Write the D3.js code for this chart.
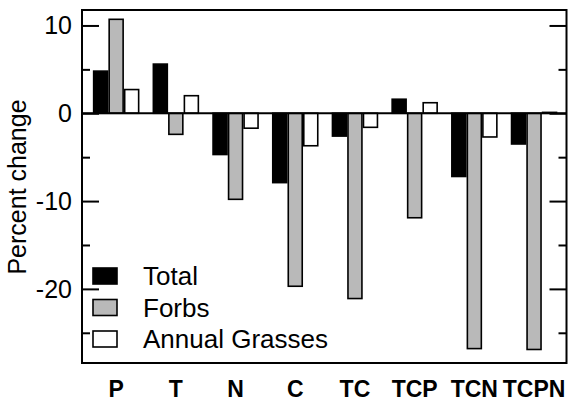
<!DOCTYPE html>
<html>
<head>
<meta charset="utf-8">
<script src="https://cdn.jsdelivr.net/npm/d3@7"></script>
<style>
  body { margin: 0; background: #fff; }
  svg { display: block; font-family: 'Liberation Sans', Arial, Helvetica, sans-serif; }
</style>
</head>
<body>
<div id="chart"></div>
<script>
// Treatments and percent change per group
const treatments = ['P', 'T', 'N', 'C', 'TC', 'TCP', 'TCN', 'TCPN']
const series = ['Total', 'Forbs', 'Annual Grasses']
const total = [4.8, 5.6, -4.7, -7.9, -2.6, 1.6, -7.2, -3.5]
const forbs = [10.7, -2.4, -9.8, -19.7, -21.1, -11.9, -26.8, -26.9]
const grasses = [2.7, 2.0, -1.7, -3.7, -1.6, 1.2, -2.7, 0.1]
const majorTicks = [-20, -10, 0, 10]
const minorTicks = [-25, -15, -5, 5]

const fills = { 'Total': '#000', 'Forbs': '#b9b9b9', 'Annual Grasses': '#fff' }

let width = 568, height = 401
let margin = { top: 10, right: 1.5, bottom: 38, left: 82 }

let svg = d3.select('#chart').append('svg')
    .attr('width', width)
    .attr('height', height)

let plotW = width - margin.left - margin.right,
    plotH = height - margin.top - margin.bottom

let g = svg.append('g')
    .attr('transform', 'translate(' + margin.left + ',' + margin.top + ')')

// Scales
let yScale = d3.scaleLinear()
    .domain([-28.44, 11.76])
    .range([plotH, 0])

let xScale = d3.scaleBand()
    .domain(treatments)
    .range([4.3, plotW - 2.6])

let x1 = d3.scaleBand()
    .domain(series)
    .range([-22.5, 22.5])
    .paddingInner(0.1)

let rows = treatments.map((t, i) => ({
  t: t,
  values: [
    { s: 'Total', v: total[i] },
    { s: 'Forbs', v: forbs[i] },
    { s: 'Annual Grasses', v: grasses[i] }
  ]
}))

// Bars
let groups = g.selectAll('.group')
    .data(rows)
    .enter().append('g')
    .attr('class', 'group')
    .attr('transform', d => 'translate(' + (xScale(d.t) + xScale.bandwidth() / 2) + ',0)')

groups.selectAll('rect')
    .data(d => d.values)
    .enter().append('rect')
    .attr('x', d => x1(d.s))
    .attr('width', x1.bandwidth())
    .attr('y', d => yScale(Math.max(0, d.v)))
    .attr('height', d => Math.abs(yScale(d.v) - yScale(0)))
    .attr('fill', d => fills[d.s])
    .attr('stroke', '#000')
    .attr('stroke-width', 1.6)

// Zero line
g.append('line')
    .attr('x1', 0).attr('x2', plotW)
    .attr('y1', yScale(0)).attr('y2', yScale(0))
    .attr('stroke', '#000')
    .attr('stroke-width', 2)

// Frame
g.append('rect')
    .attr('x', 0).attr('y', 0)
    .attr('width', plotW).attr('height', plotH)
    .attr('fill', 'none')
    .attr('stroke', '#000')
    .attr('stroke-width', 2)

// Inward ticks on both sides
let yAxisL = d3.axisRight(yScale)
    .tickValues(majorTicks)
    .tickSize(17)
    .tickFormat('')
let yAxisLMinor = d3.axisRight(yScale)
    .tickValues(minorTicks)
    .tickSize(8)
    .tickFormat('')
let yAxisR = d3.axisLeft(yScale)
    .tickValues(majorTicks)
    .tickSize(17)
    .tickFormat('')
let yAxisRMinor = d3.axisLeft(yScale)
    .tickValues(minorTicks)
    .tickSize(8)
    .tickFormat('')

g.append('g').call(yAxisL)
g.append('g').call(yAxisLMinor)
g.append('g').attr('transform', 'translate(' + plotW + ',0)').call(yAxisR)
g.append('g').attr('transform', 'translate(' + plotW + ',0)').call(yAxisRMinor)
g.selectAll('.domain').remove()
g.selectAll('.tick line').attr('stroke', '#000').attr('stroke-width', 2)

// Tick labels
g.selectAll('.ylabel')
    .data(majorTicks)
    .enter().append('text')
    .attr('class', 'ylabel')
    .attr('x', -10)
    .attr('y', d => yScale(d))
    .attr('dy', '0.36em')
    .attr('text-anchor', 'end')
    .style('font-size', '25px')
    .text(d => d)

// Category labels
g.selectAll('.xlabel')
    .data(treatments)
    .enter().append('text')
    .attr('class', 'xlabel')
    .attr('x', d => xScale(d) + xScale.bandwidth() / 2)
    .attr('y', plotH + 34)
    .attr('text-anchor', 'middle')
    .style('font-size', '23px')
    .style('font-weight', 'bold')
    .text(d => d)

// Y axis title
svg.append('text')
    .attr('transform', 'translate(26,187) rotate(-90)')
    .attr('text-anchor', 'middle')
    .style('font-size', '25px')
    .text('Percent change')

// Legend
let legend = g.selectAll('.legend')
    .data(series)
    .enter().append('g')
    .attr('class', 'legend')
    .attr('transform', (d, i) => 'translate(11,' + (258 + i * 31.5) + ')')

legend.append('rect')
    .attr('x', 0).attr('y', 0)
    .attr('width', 24).attr('height', 16)
    .attr('fill', d => fills[d])
    .attr('stroke', '#000')
    .attr('stroke-width', 1.6)

legend.append('text')
    .attr('x', 50)
    .attr('y', 17)
    .style('font-size', '26px')
    .text(d => d)
</script>
</body>
</html>
